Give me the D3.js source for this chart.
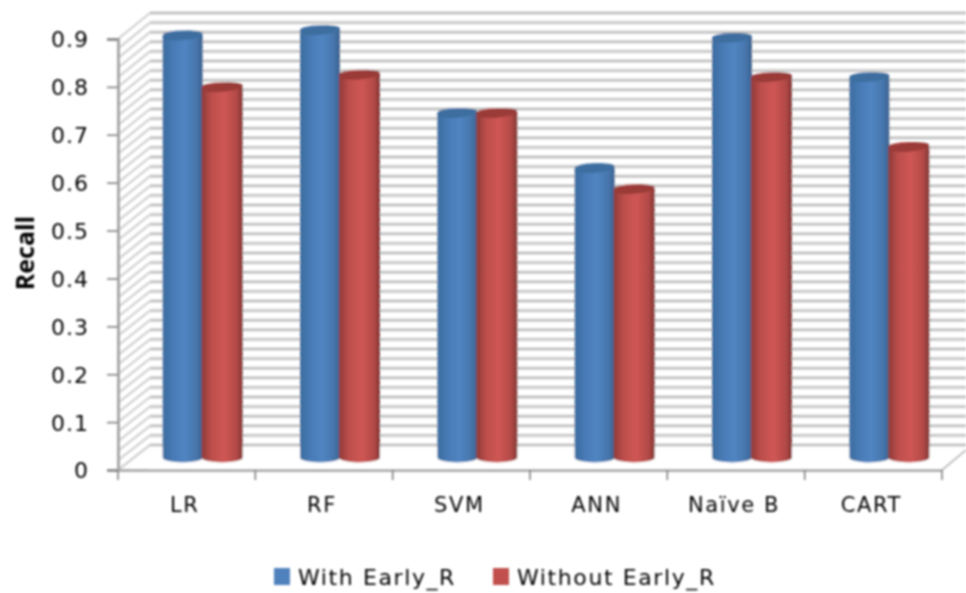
<!DOCTYPE html>
<html>
<head>
<meta charset="utf-8">
<script src="https://cdn.jsdelivr.net/npm/d3@7"></script>
<style>
  html, body { margin: 0; padding: 0; background: #fff; }
  svg { display: block; }
  text { font-family: "DejaVu Sans", sans-serif; fill: #000; }
</style>
</head>
<body>
<div id="chart"></div>
<script>
const categories = ['LR', 'RF', 'SVM', 'ANN', 'Naïve B', 'CART'];
const seriesNames = ['With Early_R', 'Without Early_R'];
const withEarly = [0.878, 0.889, 0.716, 0.601, 0.873, 0.791];
const withoutEarly = [0.770, 0.796, 0.716, 0.557, 0.791, 0.645];
const yTicks = [0, 0.1, 0.2, 0.3, 0.4, 0.5, 0.6, 0.7, 0.8, 0.9];

let width = 966;
let height = 593;

let svg = d3.select('#chart')
  .append('svg')
  .attr('width', width)
  .attr('height', height);

let defs = svg.append('defs');

// the reference is a slightly soft screenshot
defs.append('filter').attr('id', 'soft')
  .append('feGaussianBlur').attr('stdDeviation', 0.8);

function cylinderGradient(id, stops) {
  let g = defs.append('linearGradient').attr('id', id);
  stops.forEach(s => g.append('stop').attr('offset', s[0]).attr('stop-color', s[1]));
}
cylinderGradient('blueBar', [[0, '#3b6c9f'], [0.3, '#4a7cb8'], [0.55, '#5085c2'], [0.85, '#4675ab'], [1, '#3a618f']]);
cylinderGradient('redBar', [[0, '#8f3a38'], [0.25, '#bd4f4c'], [0.55, '#cf5654'], [0.85, '#b24a47'], [1, '#823533']]);

let colors = ['url(#blueBar)', 'url(#redBar)'];
let topColors = ['#3c6e9f', '#9a3b39'];
let legendColors = ['#4f81bd', '#c0504d'];

// three y scales: front of the floor, back wall, and the middle where the bars stand
let yFront = d3.scaleLinear().domain([0, 0.9]).range([470, 39]);
let yBack = d3.scaleLinear().domain([0, 0.9]).range([445, 13]);
let yBar = d3.scaleLinear().domain([0, 0.9]).range([456, 25]);

let xScale = d3.scaleBand().domain(categories).range([118, 942]);
let depthX = 32;
let midX = 16;
let barW = 40;

let chart = svg.append('g').attr('filter', 'url(#soft)');

// Draw walls
let gridValues = yFront.ticks(45);

// wide pale band with a darker core, that is how the lines look in the reference
[[4, '#e4e4e4'], [1.4, '#b4b4b4']].forEach(style => {
  chart.append('g')
    .selectAll('line')
    .data(gridValues)
    .enter()
    .append('line')
    .attr('x1', 118 + depthX)
    .attr('x2', width)
    .attr('y1', d => yBack(d))
    .attr('y2', d => yBack(d))
    .attr('stroke', style[1])
    .attr('stroke-width', style[0]);
});

chart.append('g')
  .selectAll('line')
  .data(gridValues)
  .enter()
  .append('line')
  .attr('x1', 118)
  .attr('x2', 118 + depthX)
  .attr('y1', d => yFront(d))
  .attr('y2', d => yBack(d))
  .attr('stroke', '#d0d0d0')
  .attr('stroke-width', 2.2);

chart.append('rect')
  .attr('x', 118 + depthX - 1)
  .attr('y', yBack(0) + 2)
  .attr('width', width - 118 - depthX + 1)
  .attr('height', 22)
  .attr('fill', '#fff');

chart.append('line')
  .attr('x1', 118).attr('x2', 118 + depthX)
  .attr('y1', yFront(0)).attr('y2', yBack(0))
  .attr('stroke', '#d0d0d0').attr('stroke-width', 2.2);

chart.append('line')
  .attr('x1', 942).attr('x2', 966)
  .attr('y1', yFront(0)).attr('y2', yFront(0) - 20)
  .attr('stroke', '#bdbdbd').attr('stroke-width', 2);

// Draw axes
let yAxis = chart.append('g')
  .attr('transform', 'translate(118,0)')
  .call(d3.axisLeft(yFront).tickValues(yTicks).tickSize(11).tickPadding(18).tickFormat(d => d === 0 ? '0' : d3.format('.1f')(d)));
yAxis.select('.domain').attr('stroke', '#a8a8a8').attr('stroke-width', 3);
yAxis.selectAll('.tick line').attr('stroke', '#777').attr('stroke-width', 1.5);
yAxis.selectAll('.tick text')
  .style('font-size', '22px')
  .style('letter-spacing', '1px')
  .attr('fill', '#000')
  .attr('dy', '0.36em');

let xAxis = chart.append('g')
  .attr('transform', 'translate(0,470)')
  .call(d3.axisBottom(xScale).tickSize(0).tickPadding(27));
xAxis.select('.domain').attr('stroke', '#b0b0b0').attr('stroke-width', 3);
xAxis.selectAll('.tick text')
  .style('font-size', '21px')
  .style('letter-spacing', '1.6px')
  .attr('fill', '#000')
  .attr('dx', -2);

chart.append('g')
  .selectAll('line')
  .data(categories.concat(['end']))
  .enter()
  .append('line')
  .attr('x1', (d, i) => i < categories.length ? xScale(d) : xScale.range()[1])
  .attr('x2', (d, i) => i < categories.length ? xScale(d) : xScale.range()[1])
  .attr('y1', 470)
  .attr('y2', 480)
  .attr('stroke', '#777')
  .attr('stroke-width', 1.5);

chart.append('text')
  .attr('transform', 'translate(34,253) rotate(270)')
  .attr('text-anchor', 'middle')
  .style('font-family', '"Open Sans", sans-serif')
  .style('font-size', '25px')
  .style('font-weight', 'bold')
  .text('Recall');

// Draw bars
function cylinderPath(x0, w, yTop, yBase, ry) {
  let rx = w / 2;
  return 'M' + x0 + ',' + yTop +
    'L' + x0 + ',' + yBase +
    'A' + rx + ',' + ry + ' 0 0 0 ' + (x0 + w) + ',' + yBase +
    'L' + (x0 + w) + ',' + yTop +
    'A' + rx + ',' + ry + ' 0 0 0 ' + x0 + ',' + yTop + 'Z';
}

[withEarly, withoutEarly].forEach((values, s) => {
  let g = chart.append('g')
    .selectAll('g')
    .data(values)
    .enter()
    .append('g');

  // red sits tight against blue, its left edge covers the blue right edge
  let barX = (d, i) => xScale(categories[i]) + xScale.bandwidth() / 2 + midX + (s === 0 ? -barW : -1);
  let barWidth = s === 0 ? barW : barW + 1;

  g.append('path')
    .attr('d', (d, i) => cylinderPath(barX(d, i), barWidth, yBar(d), yBar(0) + 1.5, 5))
    .attr('fill', colors[s]);

  // tops lean up to the right a little
  g.append('ellipse')
    .attr('cx', (d, i) => barX(d, i) + barWidth / 2)
    .attr('cy', d => yBar(d))
    .attr('rx', barWidth / 2)
    .attr('ry', 4.6)
    .attr('transform', (d, i) => 'rotate(-5 ' + (barX(d, i) + barWidth / 2) + ' ' + yBar(d) + ')')
    .attr('fill', topColors[s]);
});

// Legend
let legendX = [274, 493];
let legend = chart.append('g')
  .selectAll('g')
  .data(seriesNames)
  .enter()
  .append('g')
  .attr('transform', (d, i) => 'translate(' + legendX[i] + ',568)');

legend.append('rect')
  .attr('width', 16)
  .attr('height', 17)
  .attr('fill', (d, i) => legendColors[i]);

legend.append('text')
  .attr('x', 24)
  .attr('y', 17)
  .style('font-size', '22px')
  .style('letter-spacing', '1.6px')
  .text(d => d);
</script>
</body>
</html>
